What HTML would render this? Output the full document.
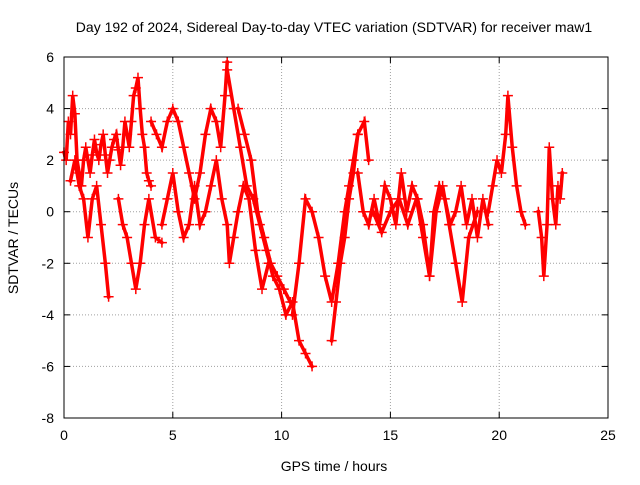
<!DOCTYPE html>
<html><head><meta charset="utf-8"><style>
body{margin:0;background:#fff}
svg{font-family:"Liberation Sans",sans-serif;font-size:14px}
</style></head><body>
<svg id="chart" width="640" height="480">
<rect width="640" height="480" fill="#fff"/>
<text x="334" y="32" text-anchor="middle">Day 192 of 2024, Sidereal Day-to-day VTEC variation (SDTVAR) for receiver maw1</text>
<text x="334" y="471" text-anchor="middle">GPS time / hours</text>
<text x="18" y="238" text-anchor="middle" transform="rotate(-90 18 238)">SDTVAR / TECUs</text>
<g id="grid"></g><g id="ticks"></g><g id="marks"></g>
<rect x="64" y="57" width="544" height="361" fill="none" stroke="#000"/>
</svg>
<script>
const xTicks=[0,5,10,15,20,25];
const yTicks=[6,4,2,0,-2,-4,-6,-8];
const tA=[0,0.1,0.2,0.3,0.4,0.5,0.6,0.7,0.8,0.9,1.0,1.1,1.2,1.3,1.4,1.5,1.6,1.7,1.8,1.9,2.0,2.1,2.2,2.3,2.4,2.5,2.6,2.7,2.8,2.9,3.0,3.1,3.2,3.3,3.4,3.5,3.6,3.7,3.8,3.9,4.0];
const vA=[2.3,2.0,3.5,3.0,4.5,3.8,2,1.5,1,2,2.5,2.0,1.5,2.2,2.8,2.3,2,2.6,3,2.2,1.5,2.0,2.5,2.8,3,2.4,1.8,2.5,3.5,3.0,2.5,3.5,4.5,4.8,5.2,4.0,3,2.5,1.5,1.2,1];
const tB=[0.3,0.5,0.7,0.9,1.1,1.3,1.5,1.7,1.9,2.05];
const vB=[1.2,2,1,0.5,-1,0.5,1,-0.5,-2,-3.3];
const tC=[2.5,2.7,2.9,3.1,3.3,3.5,3.7,3.9,4.2,4.5];
const vC=[0.5,-0.5,-1,-2,-3,-2,-0.5,0.5,-1,-1.2];
const tD=[4.0,4.25,4.5,4.75,5.0,5.25,5.5,5.75,6.0,6.25,6.5,6.75,7.0,7.2,7.4,7.5];
const vD=[3.5,3,2.5,3.5,4,3.5,2.5,1.5,0.5,1.5,3,4,3.5,2.5,4.5,5.8];
const tE=[4.5,4.75,5.0,5.25,5.5,5.75,6.0,6.25,6.5,6.75,7.0,7.25,7.5,7.6,7.8,8.0,8.25,8.5,8.8,9.1,9.4];
const vE=[-0.5,0.5,1.5,0,-1,-0.5,1,-0.5,0,1,2,0.5,-0.5,-2,-1,0,1,0.5,-1.5,-3,-2];
const tF=[7.5,7.8,8.1,8.4,8.7,9.0,9.3,9.6,9.9,10.2,10.5,10.8,11.1,11.4];
const vF=[5.5,4,2.5,1,0.5,-0.5,-1.5,-2.5,-3,-4,-3.5,-5,-5.5,-6];
const tG=[8.0,8.3,8.6,8.9,9.2,9.5,9.8,10.1,10.4];
const vG=[4,3,2,0,-1,-2,-2.5,-3,-3.5];
const tH=[10.5,10.8,11.1,11.4,11.7,12.0,12.3,12.6,12.9,13.1,13.3,13.5,13.8,14.0];
const vH=[-4,-2,0.5,0,-1,-2.5,-3.5,-2,0,1,2,3,3.5,2];
const tI=[12.3,12.5,12.7,12.9,13.1,13.3,13.5];
const vI=[-5,-3.5,-2,-1,0.5,1.5,3];
const tJ=[13.5,13.75,14.0,14.25,14.5,14.75,15.0,15.25,15.5,15.75,16.0,16.25,16.5,16.8,17.0,17.25,17.5,17.75,18.0,18.25,18.5,18.75,19.0,19.25,19.5];
const vJ=[1.5,0,-0.5,0.5,-0.5,1,0.5,-0.5,1.5,0,1,0.5,-0.5,-2.5,0,1,0.5,-0.5,0,1,-0.5,0.5,-1,0.5,-0.5];
const tK=[14.2,14.6,15.0,15.4,15.8,16.2,16.5,16.8,17.1,17.4,17.7,18.0,18.3,18.6,19.0];
const vK=[0,-0.8,0,0.5,-0.5,0.5,-1,-2.5,0,1,-0.5,-2,-3.5,-1,0];
const tL=[19.5,19.7,19.9,20.1,20.3,20.4,20.6,20.8,21.0,21.2];
const vL=[0,1,2,1.5,3,4.5,2.5,1,0,-0.5];
const tM=[21.8,21.95,22.05,22.2,22.3,22.45,22.6,22.7,22.8,22.9];
const vM=[0,-1,-2.5,-0.5,2.5,0.5,-0.5,1,0.5,1.5];
const series=[[tA,vA],[tB,vB],[tC,vC],[tD,vD],[tE,vE],[tF,vF],[tG,vG],[tH,vH],[tI,vI],[tJ,vJ],[tK,vK],[tL,vL],[tM,vM]];
const X0=64,X1=608,Y0=418,Y1=57;
const sx=t=>X0+(t-0)/(25-0)*(X1-X0);
const sy=v=>Y0-(v+8)/(14)*(Y0-Y1);
const NS="http://www.w3.org/2000/svg";
const grid=document.getElementById('grid'),ticks=document.getElementById('ticks'),marks=document.getElementById('marks');
function mk(tag,attrs,parent){const e=document.createElementNS(NS,tag);for(const k in attrs)e.setAttribute(k,attrs[k]);parent.appendChild(e);return e;}
xTicks.forEach(t=>{const x=sx(t);
 if(t>0&&t<25){const g=mk('line',{x1:x,x2:x,y1:Y1,y2:Y0,stroke:'#a0a0a0','stroke-dasharray':'1,2'},grid);
 
 }
 const l=mk('text',{x:x,y:Y0+22,'text-anchor':'middle'},ticks);l.textContent=t;
 
 
 mk('line',{x1:x,x2:x,y1:Y0,y2:Y0-6,stroke:'#000'},ticks);mk('line',{x1:x,x2:x,y1:Y1,y2:Y1+6,stroke:'#000'},ticks);});
yTicks.forEach(v=>{const y=sy(v);
 if(v<6&&v>-8){const g=mk('line',{x1:X0,x2:X1,y1:y,y2:y,stroke:'#a0a0a0','stroke-dasharray':'1,2'},grid);
 
 }
 const l=mk('text',{x:X0-10,y:y+5,'text-anchor':'end'},ticks);l.textContent=v;
 
 
 mk('line',{x1:X0,x2:X0+6,y1:y,y2:y,stroke:'#000'},ticks);mk('line',{x1:X1,x2:X1-6,y1:y,y2:y,stroke:'#000'},ticks);});
series.forEach((s,i)=>{const [ts,vs]=s;
 const pts=ts.map((t,j)=>sx(t)+','+sy(vs[j])).join(' ');
 const pl=mk('polyline',{points:pts,fill:'none',stroke:'#f00','stroke-width':3.5,'stroke-linejoin':'miter','stroke-linecap':'square'},marks);
 
 
 ts.forEach((t,j)=>{const x=sx(t),y=sy(vs[j]);
  const p=mk('path',{d:`M${x-5},${y}H${x+5}M${x},${y-5}V${y+5}`,stroke:'#f00','stroke-width':1.5},marks);
  
  });});
</script>
</body></html>
